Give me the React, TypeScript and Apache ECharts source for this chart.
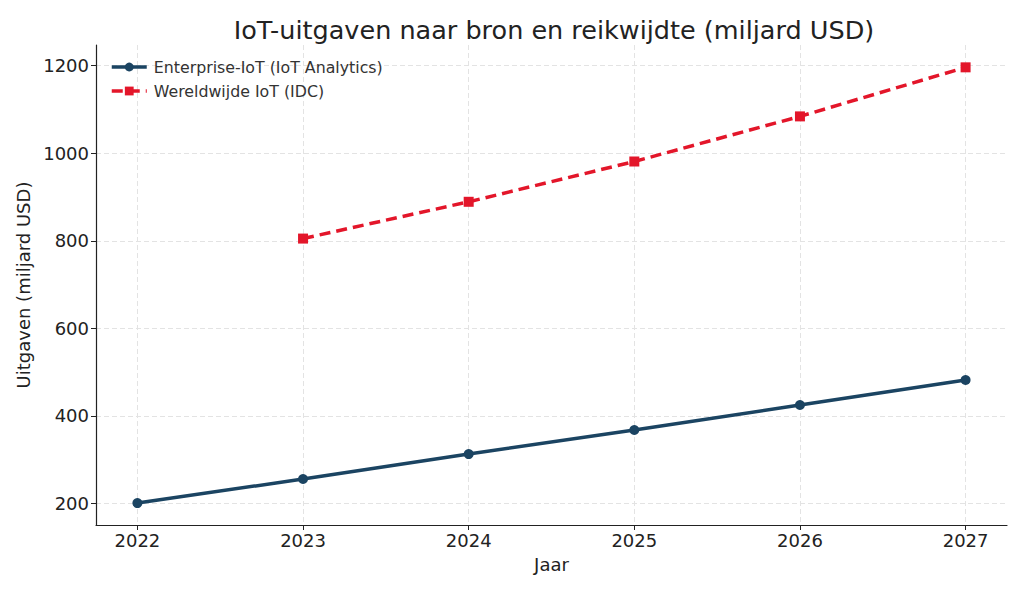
import React, { useEffect, useRef } from "react";
import * as echarts from "echarts";

const years = [2022, 2023, 2024, 2025, 2026, 2027];
const enterpriseIoT = [201, 256, 313, 368, 425, 482];
const idcYears = [2023, 2024, 2025, 2026, 2027];
const worldwideIoT = [805, 889, 981, 1084, 1196];
const yTicks = [200, 400, 600, 800, 1000, 1200];

const FONT = "DejaVu Sans";

export default function App() {
  const ref = useRef<HTMLDivElement>(null);
  useEffect(() => {
    if (!ref.current) return;
    const chart = echarts.init(ref.current, null, { renderer: "svg" });
    chart.setOption({
      animation: false,
      backgroundColor: "#ffffff",
      textStyle: { fontFamily: FONT },
      title: {
        text: "IoT-uitgaven naar bron en reikwijdte (miljard USD)",
        left: 549,
        textAlign: "center",
        top: 12,
        textStyle: { fontFamily: FONT, fontSize: 25.5, fontWeight: "normal", color: "#222222" },
      },
      legend: {
        left: 110,
        top: 59,
        padding: 0,
        orient: "vertical",
        itemGap: 8,
        itemWidth: 35,
        itemHeight: 11,
        lineStyle: { width: 3.5 },
        textStyle: { fontFamily: FONT, fontSize: 15.8, color: "#333333", padding: [0, 0, 0, 2] },
        data: ["Enterprise-IoT (IoT Analytics)", "Wereldwijde IoT (IDC)"],
      },
      grid: { left: 96, right: 17, top: 45, bottom: 67, containLabel: false },
      xAxis: {
        type: "value",
        min: 2021.75,
        max: 2027.25,
        name: "Jaar",
        nameLocation: "middle",
        nameGap: 30,
        nameTextStyle: { fontFamily: FONT, fontSize: 18, color: "#222222" },
        axisLine: { show: true, lineStyle: { color: "#222222", width: 1.2 } },
        axisTick: { show: true, length: 5, lineStyle: { color: "#222222" }, customValues: years },
        axisLabel: {
          customValues: years,
          fontFamily: FONT,
          fontSize: 18,
          color: "#222222",
          margin: 6,
          formatter: (v: number) => String(Math.round(v)),
        },
        splitLine: { show: true, lineStyle: { color: "#e3e3e3", type: [5, 3], width: 1 } },
      },
      yAxis: {
        type: "value",
        min: 151,
        max: 1247,
        name: "Uitgaven (miljard USD)",
        nameLocation: "middle",
        nameGap: 58,
        nameTextStyle: { fontFamily: FONT, fontSize: 18, color: "#222222" },
        axisLine: { show: true, lineStyle: { color: "#222222", width: 1.2 } },
        axisTick: { show: true, length: 5, lineStyle: { color: "#222222" }, customValues: yTicks },
        axisLabel: {
          customValues: yTicks,
          fontFamily: FONT,
          fontSize: 18,
          color: "#222222",
          margin: 7,
          formatter: (v: number) => String(Math.round(v)),
        },
        splitLine: { show: true, lineStyle: { color: "#e3e3e3", type: [5, 3], width: 1 } },
      },
      series: [
        {
          name: "Enterprise-IoT (IoT Analytics)",
          type: "line",
          data: years.map((y, i) => [y, enterpriseIoT[i]]),
          symbol: "circle",
          symbolSize: 10,
          lineStyle: { color: "#1b4462", width: 3.5 },
          itemStyle: { color: "#1b4462" },
          z: 3,
        },
        {
          name: "Wereldwijde IoT (IDC)",
          type: "line",
          data: idcYears.map((y, i) => [y, worldwideIoT[i]]),
          symbol: "rect",
          symbolSize: 10,
          lineStyle: { color: "#e3162a", width: 3.5, type: [11, 6] },
          itemStyle: { color: "#e3162a" },
          z: 3,
        },
      ],
    });
    return () => chart.dispose();
  }, []);
  return <div ref={ref} style={{ width: 1024, height: 592, margin: -8 }} />;
}
